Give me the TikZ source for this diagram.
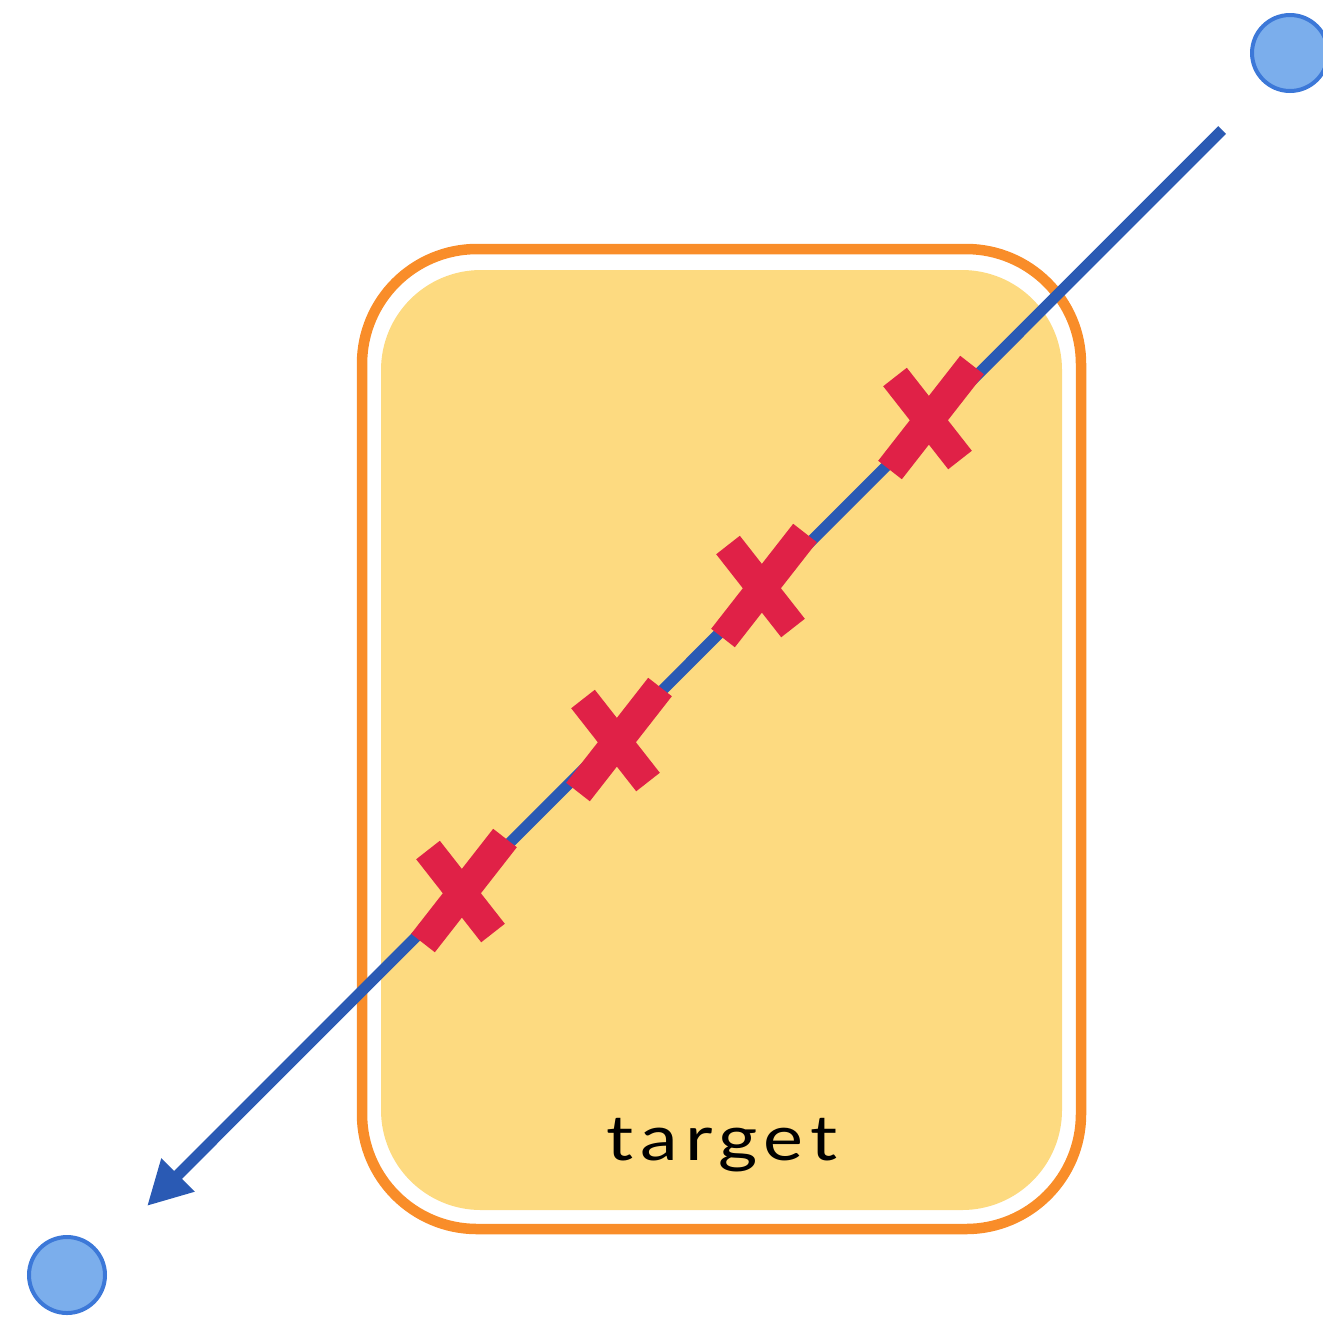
\documentclass[tikz,border=0pt]{standalone}
\usepackage{fontspec}
\setmainfont{Lato}
\newfontfamily\labelfont[LetterSpace=9]{Lato}
\usetikzlibrary{positioning,arrows.meta}
\definecolor{boxorange}{HTML}{F98D29}
\definecolor{boxyellow}{HTML}{FDDA80}
\definecolor{rayblue}{HTML}{2A5AB4}
\definecolor{hitred}{HTML}{E02147}
\definecolor{ptfill}{HTML}{7BAEEC}
\definecolor{ptline}{HTML}{3C78D8}

\begin{document}
\begin{tikzpicture}[>={Triangle[length=0.44cm,width=0.44cm]},
  endpt/.style={draw=ptline,fill=ptfill,circle,line width=0.04cm,minimum size=0.76cm,inner sep=0pt},
  hit/.style={draw=hitred,line width=0.3cm}]
\useasboundingbox (0,0) rectangle (13.23,-13.16);
\node[draw=boxorange,line width=0.105cm,rounded corners=1.15cm,minimum width=7.19cm,minimum height=9.8cm,inner sep=0pt] (box) at (7.215,-7.39) {};
\node[fill=boxyellow,rounded corners=1cm,minimum width=6.81cm,minimum height=9.4cm,inner sep=0pt] (area) at (7.215,-7.40) {};
\node[anchor=base west,xscale=1.2,font=\labelfont\fontsize{17.9pt}{20pt}\selectfont,inner sep=0pt] (lbl) at (6.06,-11.60) {target};
\node[endpt] (src) at (12.90,-0.53) {};
\node[endpt] (dst) at (0.67,-12.75) {};
\coordinate (rayin) at (12.22,-1.30);
\coordinate (rayout) at (1.47,-12.06);
\draw[->,rayblue,line width=0.11cm] (rayin) -- (rayout);
% hits along the ray
\foreach \x/\y in {9.29/-4.20,7.62/-5.88,6.17/-7.42,4.62/-8.93}{
  \draw[hit] (\x-0.34,\y+0.43) -- (\x+0.31,\y-0.40);
  \draw[hit] (\x+0.43,\y+0.55) -- (\x-0.39,\y-0.50);
}
\end{tikzpicture}
\end{document}
